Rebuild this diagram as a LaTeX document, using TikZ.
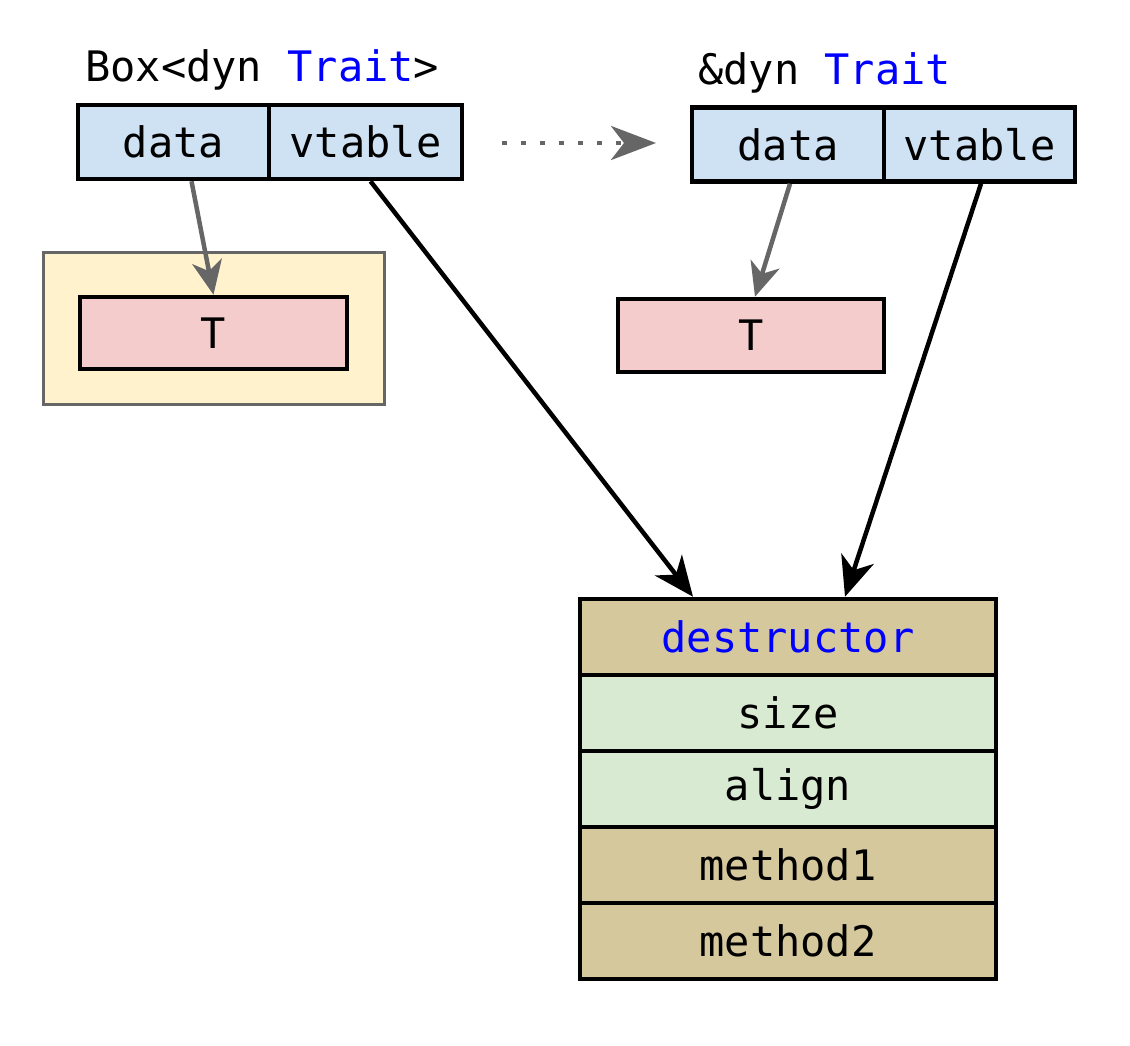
\documentclass[tikz,border=0pt]{standalone}
\usepackage{fontspec}
\setmonofont{DejaVu Sans Mono}
\usetikzlibrary{arrows.meta,positioning}
\definecolor{cellblue}{HTML}{CFE2F3}
\definecolor{tpink}{HTML}{F4CCCC}
\definecolor{boxyellow}{HTML}{FFF2CC}
\definecolor{tan}{HTML}{D5C89C}
\definecolor{vgreen}{HTML}{D9EAD3}
\definecolor{arrgray}{HTML}{666666}
\definecolor{kwblue}{HTML}{0000FF}
\tikzset{
  cell/.style={draw=black, line width=4.5pt, inner sep=0pt, font=\ttfamily\fontsize{42}{50}\selectfont},
  lbl/.style={inner sep=0pt, font=\ttfamily\fontsize{42}{50}\selectfont, anchor=west},
  blackarr/.style={draw=black, line width=4.5pt, -{Stealth[length=40pt,width=34pt,inset=12pt]}},
  grayarr/.style={draw=arrgray, line width=4.5pt, -{Stealth[length=34pt,width=30pt,inset=10pt]}},
  dotarr/.style={draw=arrgray, line width=4.5pt, dash pattern=on 4.5pt off 14.5pt, -{Stealth[length=45pt,width=34pt,inset=13pt]}},
}
\begin{document}
\begin{tikzpicture}[x=1pt,y=-1pt]
\useasboundingbox (0,0) rectangle (1130,1046);
% left fat pointer
\node[lbl] (lab1) at (85,70) {Box<dyn \textcolor{kwblue}{Trait}>};
\node[cell, fill=cellblue, minimum width=191pt, minimum height=74pt] (data1) at (173.5,142) {data};
\node[cell, fill=cellblue, minimum width=193pt, minimum height=74pt] (vt1) at (365.5,142) {vtable};
% right fat pointer
\node[lbl] (lab2) at (698,73) {\&dyn \textcolor{kwblue}{Trait}};
\node[cell, fill=cellblue, minimum width=192pt, minimum height=74pt] (data2) at (788,144.5) {data};
\node[cell, fill=cellblue, minimum width=191pt, minimum height=74pt] (vt2) at (979.5,144.5) {vtable};
% boxed T
\node[draw=arrgray, line width=3.5pt, fill=boxyellow, minimum width=341pt, minimum height=152pt, inner sep=0pt] (heap) at (214,328.5) {};
\node[cell, fill=tpink, minimum width=267pt, minimum height=72pt] (T1) at (213.5,333) {T};
\node[cell, fill=tpink, minimum width=266pt, minimum height=73pt] (T2) at (751,335.5) {T};
% vtable
\node[cell, fill=tan, minimum width=416pt, minimum height=76pt] (dtor) at (788,637) {\textcolor{kwblue}{destructor}};
\node[cell, fill=vgreen, minimum width=416pt, minimum height=76pt] (size) at (788,713) {size};
\node[cell, fill=vgreen, minimum width=416pt, minimum height=76pt] (align) at (788,789) {align};
\node[cell, fill=tan, minimum width=416pt, minimum height=76pt] (m1) at (788,865) {method1};
\node[cell, fill=tan, minimum width=416pt, minimum height=76pt] (m2) at (788,941) {method2};
% connectors
\draw[grayarr] ([xshift=18pt]data1.south) -- (T1.north);
\draw[grayarr] ([xshift=2pt]data2.south) -- ([xshift=4pt]T2.north);
\draw[blackarr] ([xshift=5pt]vt1.south) -- ([xshift=-95pt]dtor.north);
\draw[blackarr] ([xshift=1.5pt]vt2.south) -- ([xshift=57pt]dtor.north);
\coordinate (ds) at (502,143);
\coordinate (de) at (656,143);
\draw[dotarr] (ds) -- (de);
\end{tikzpicture}
\end{document}
